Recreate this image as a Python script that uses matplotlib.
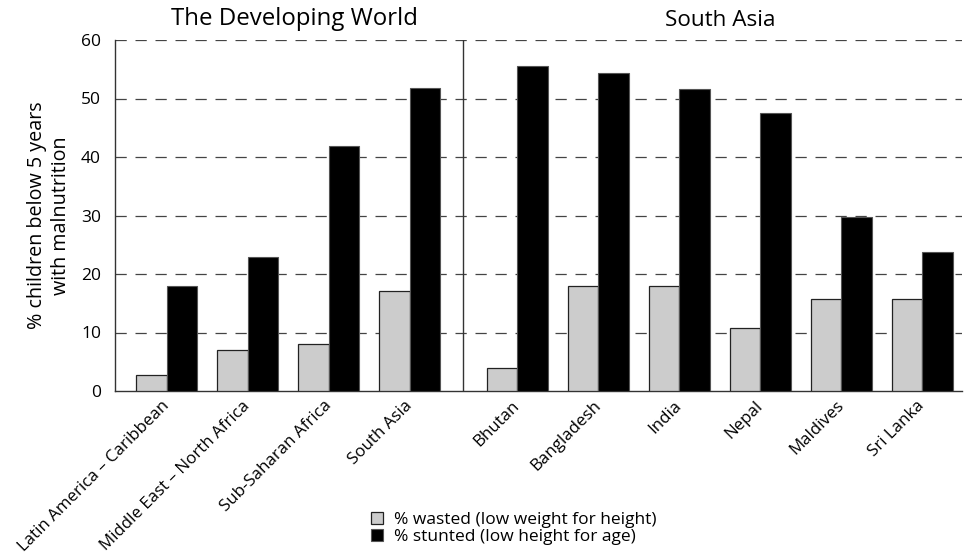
import matplotlib
matplotlib.use("Agg")
import matplotlib.pyplot as plt
from matplotlib.patches import Patch

plt.rcParams['font.family'] = ['Open Sans', 'DejaVu Sans']

world_categories = ["Latin America – Caribbean", "Middle East – North Africa",
                    "Sub-Saharan Africa", "South Asia"]
world_wasted = [2.8, 7.0, 8.1, 17.1]
world_stunted = [18.0, 22.9, 41.9, 51.8]

asia_categories = ["Bhutan", "Bangladesh", "India", "Nepal", "Maldives", "Sri Lanka"]
asia_wasted = [3.9, 17.9, 17.9, 10.8, 15.7, 15.7]
asia_stunted = [55.6, 54.4, 51.6, 47.5, 29.8, 23.8]

yticks = [0, 10, 20, 30, 40, 50, 60]
group_titles = ["The Developing World", "South Asia"]
legend_labels = ["% wasted (low weight for height)", "% stunted (low height for age)"]

categories = world_categories + asia_categories
wasted = world_wasted + asia_wasted
stunted = world_stunted + asia_stunted

gap = 0.33
xpos = [i for i in range(len(world_categories))] + \
       [len(world_categories) + gap + i for i in range(len(asia_categories))]
sep_x = len(world_categories) - 1 + 0.66

fig = plt.figure(figsize=(9.67, 5.57), dpi=100)
ax = fig.add_axes([115/967, 1 - 391/557, (962 - 115)/967, (391 - 40)/557])

w = 0.377
ax.bar([x - w/2 for x in xpos], wasted, width=w, color="#cccccc",
       edgecolor="#222222", linewidth=0.9, zorder=3)
ax.bar([x + w/2 for x in xpos], stunted, width=w, color="#000000",
       edgecolor="#555555", linewidth=0.8, zorder=3)

ax.set_xlim(-0.64, xpos[-1] + 0.49)
ax.set_ylim(0, 60)
ax.set_yticks(yticks)
ax.set_yticklabels([str(t) for t in yticks], fontsize=12.5)
for t in yticks[1:]:
    ax.axhline(t, color="#444444", linestyle=(0, (9, 7)), linewidth=0.9, zorder=1)
ax.axvline(sep_x, color="#333333", linewidth=1.0, zorder=2)

ax.set_xticks(xpos)
ax.set_xticklabels(categories, rotation=45, ha="right", va="center",
                   rotation_mode="anchor", fontsize=12.2)
ax.tick_params(axis="both", length=0)
ax.tick_params(axis="x", pad=9)
ax.tick_params(axis="y", pad=10)

for s in ["top", "right"]:
    ax.spines[s].set_visible(False)
for s in ["left", "bottom"]:
    ax.spines[s].set_color("#333333")
    ax.spines[s].set_linewidth(1.0)

ax.set_ylabel("% children below 5 years\nwith malnutrition", fontsize=14.2, labelpad=7,
              linespacing=1.3)

# group titles
ax.text((xpos[0] + xpos[len(world_categories)-1]) / 2 + 0.08, 61.5, group_titles[0],
        ha="center", va="bottom", fontsize=17.3)
ax.text((xpos[len(world_categories)] + xpos[-1]) / 2, 61.5, group_titles[1],
        ha="center", va="bottom", fontsize=16.2)

handles = [Patch(facecolor="#cccccc", edgecolor="#222222", linewidth=0.9),
           Patch(facecolor="#000000", edgecolor="#555555", linewidth=0.8)]
fig.legend(handles, legend_labels, loc="upper left", bbox_to_anchor=(362/967, 1 - 503/557),
           frameon=False, fontsize=12.5, handlelength=0.7, handleheight=0.7,
           handletextpad=0.65, labelspacing=0.05, borderpad=0)

fig.savefig("out.png", dpi=100)
